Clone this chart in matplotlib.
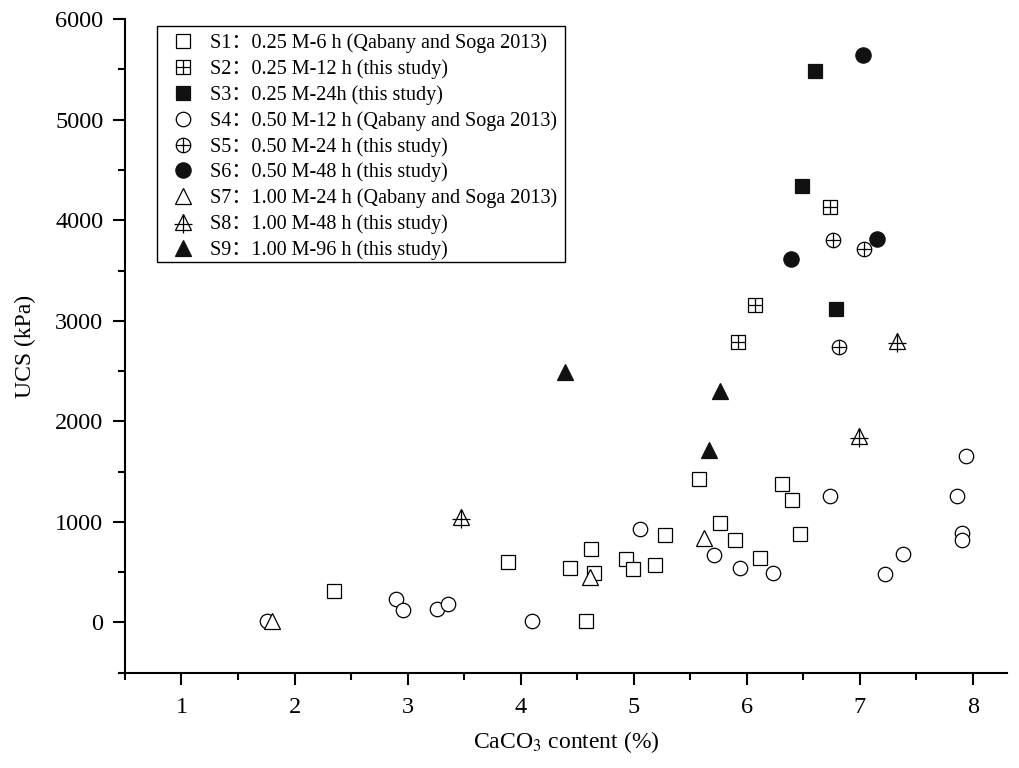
import matplotlib.pyplot as plt
from matplotlib.path import Path
from matplotlib.patches import Rectangle
from matplotlib.ticker import MultipleLocator
from matplotlib.legend_handler import HandlerTuple

plt.rcParams['font.family'] = ['Liberation Serif', 'Noto Sans CJK SC']
plt.rcParams['mathtext.fontset'] = 'stix'

# CaCO3 content (%) and UCS (kPa)
s1_x = [2.35, 3.89, 4.44, 4.62, 4.65, 4.93, 4.99, 5.19, 5.28, 5.58, 5.76, 5.90, 6.12, 6.31, 6.40, 6.47, 4.58]
s1_y = [315, 597, 541, 730, 491, 630, 534, 574, 872, 1426, 988, 825, 640, 1376, 1217, 885, 10]
s2_x = [5.92, 6.07, 6.74]
s2_y = [2788, 3159, 4136]
s3_x = [6.49, 6.60, 6.79]
s3_y = [4342, 5489, 3122]
s4_x = [1.76, 2.90, 2.96, 3.26, 3.36, 4.10, 5.06, 5.71, 5.94, 6.23, 6.74, 7.22, 7.38, 7.86, 7.90, 7.90, 7.94]
s4_y = [10, 233, 126, 136, 183, 10, 932, 673, 541, 497, 1263, 484, 683, 1263, 889, 822, 1658]
s5_x = [6.76, 6.82, 7.04]
s5_y = [3805, 2744, 3719]
s6_x = [6.39, 7.03, 7.15]
s6_y = [3616, 5643, 3812]
s7_x = [1.80, 4.61, 5.62]
s7_y = [10, 457, 844]
s8_x = [3.47, 6.99, 7.33]
s8_y = [1054, 1850, 2801]
s9_x = [4.39, 5.67, 5.76]
s9_y = [2496, 1720, 2300]

labels = [
    'S1：0.25 M-6 h (Qabany and Soga 2013)',
    'S2：0.25 M-12 h (this study)',
    'S3：0.25 M-24h (this study)',
    'S4：0.50 M-12 h (Qabany and Soga 2013)',
    'S5：0.50 M-24 h (this study)',
    'S6：0.50 M-48 h (this study)',
    'S7：1.00 M-24 h (Qabany and Soga 2013)',
    'S8：1.00 M-48 h (this study)',
    'S9：1.00 M-96 h (this study)',
]

# cross used inside the S8 triangle (line below the base, bar a bit low)
tri_cross = Path([(0, -1.43), (0, 1.0), (-1.2, -0.3), (1.2, -0.3)],
                 [Path.MOVETO, Path.LINETO, Path.MOVETO, Path.LINETO])

fig = plt.figure(figsize=(10.2, 7.68), dpi=100)
ax = fig.add_axes([0.1225, 0.124, 0.8645, 0.851])

ew = 0.9
open_kw = dict(ls='none', mfc='white', mec='black', mew=ew)
fill_kw = dict(ls='none', mfc='#111111', mec='#111111', mew=ew)
plus_kw = dict(ls='none', mec='black', mew=ew)

h1, = ax.plot(s1_x, s1_y, marker='s', ms=9.6, **open_kw)
h2a, = ax.plot(s2_x, s2_y, marker='s', ms=9.6, **open_kw)
h2b, = ax.plot(s2_x, s2_y, marker='+', ms=9.6, **plus_kw)
h3, = ax.plot(s3_x, s3_y, marker='s', ms=10, **fill_kw)
h4, = ax.plot(s4_x, s4_y, marker='o', ms=10.4, **open_kw)
h5a, = ax.plot(s5_x, s5_y, marker='o', ms=10.4, **open_kw)
h5b, = ax.plot(s5_x, s5_y, marker='+', ms=10.4, **plus_kw)
h6, = ax.plot(s6_x, s6_y, marker='o', ms=11, **fill_kw)
h7, = ax.plot(s7_x, s7_y, marker='^', ms=11, **open_kw)
h8a, = ax.plot(s8_x, s8_y, marker='^', ms=11, **open_kw)
h8b, = ax.plot(s8_x, s8_y, marker=tri_cross, ms=11 * 1.43, **plus_kw)
h9, = ax.plot(s9_x, s9_y, marker='^', ms=11, **fill_kw)

handles = [h1, (h2a, h2b), h3, h4, (h5a, h5b), h6, h7, (h8a, h8b), h9]
leg = ax.legend(handles, labels, loc='upper left', bbox_to_anchor=(0.0236, 0.987),
                borderaxespad=0, fontsize=14.5, frameon=False,
                labelspacing=0.30, handlelength=3.1, handletextpad=-0.2,
                borderpad=0.3, handler_map={tuple: HandlerTuple(ndivide=1)})

# legend frame drawn by hand so it hugs the text
ax.add_patch(Rectangle((0.0363, 0.6286), 0.4626, 0.3611, transform=ax.transAxes,
                       fill=False, edgecolor='black', linewidth=1.0, zorder=4))

ax.set_xlim(0.5, 8.3)
ax.set_ylim(-500, 6000)
ax.set_xticks(range(1, 9))
ax.set_yticks(range(0, 6001, 1000))
ax.xaxis.set_minor_locator(MultipleLocator(0.5))
ax.yaxis.set_minor_locator(MultipleLocator(500))

for side in ['top', 'right']:
    ax.spines[side].set_visible(False)
for side in ['left', 'bottom']:
    ax.spines[side].set_linewidth(1.5)

ax.tick_params(which='major', direction='out', length=8.5, width=1.5, labelsize=17.5, pad=7)
ax.tick_params(axis='x', which='major', pad=9)
ax.tick_params(which='minor', direction='out', length=5, width=1.5)

ax.set_xlabel('CaCO$_3$ content (%)', fontsize=17, labelpad=8)
ax.set_ylabel('UCS (kPa)', fontsize=17, labelpad=14)

fig.savefig('out.png', dpi=100)
